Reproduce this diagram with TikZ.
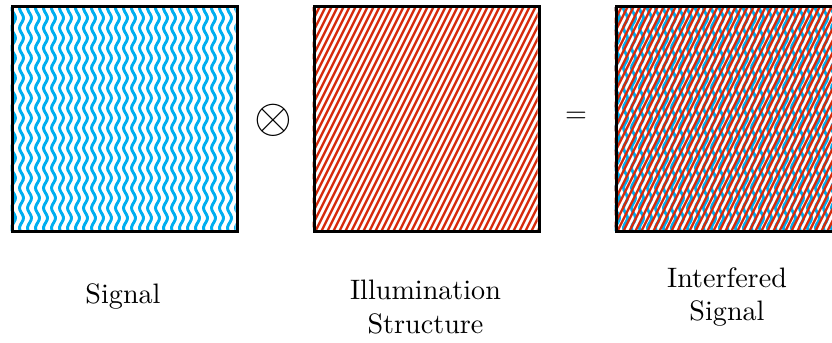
\documentclass[tikz,border=0pt]{standalone}
\usetikzlibrary{positioning}
\definecolor{sigcyan}{RGB}{0,174,239}
\definecolor{illred}{RGB}{213,43,12}
\tikzset{
  panel/.style={draw=black, line width=1.1pt, minimum size=2.8125cm, inner sep=0pt, anchor=south west},
  wave/.style={sigcyan, line width=1.05pt},
  stripe/.style={illred, line width=0.85pt},
  caption/.style={align=center, font=\normalsize}
}
% Vertical wavy lines of the signal, #1 = left edge of the panel.
\newcommand\signalwaves[1]{%
  \begin{scope}
    \clip (#1,110) rectangle ++(225,225);
    \foreach \i in {0,...,28}
      \draw[wave] plot[domain=106:339, samples=95, smooth] ({#1+3+\i*8+2*sin(18*\x)}, \x);
  \end{scope}}
% Slanted stripes of the illumination, #1 = left edge of the panel.
\newcommand\illumstripes[1]{%
  \begin{scope}
    \clip (#1,110) rectangle ++(225,225);
    \foreach \i in {-20,...,38}
      \draw[stripe] (#1+\i*6,106) -- ++(116,232);
  \end{scope}}
\begin{document}
\begin{tikzpicture}[x=0.0125cm, y=0.0125cm, line cap=round]
  \useasboundingbox (0,0) rectangle (832,343);
  % Patterns.
  \signalwaves{10.5}
  \illumstripes{312.5}
  \signalwaves{614.5}
  \illumstripes{614.5}
  % Panels.
  \node[panel] (signal) at (10.5,110) {};
  \node[panel] (illum)  at (312.5,110) {};
  \node[panel] (interf) at (614.5,110) {};
  % Operators.
  \node (times) at (273,223) {\LARGE $\otimes$};
  \node (equals) at (576,226) {$=$};
  % Captions.
  \node[caption] (signallabel) at (123,47) {Signal};
  \node[caption] (illumlabel)  at (425.5,36) {Illumination\\Structure};
  \node[caption] (interflabel) at (727,46) {Interfered\\Signal};
\end{tikzpicture}
\end{document}
